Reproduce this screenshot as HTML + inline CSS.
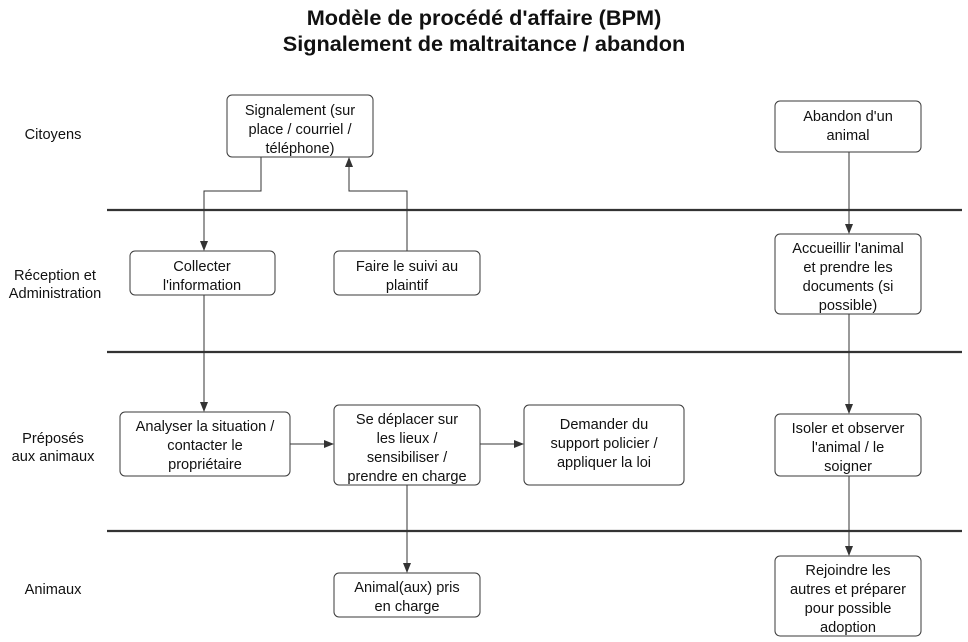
<!DOCTYPE html>
<html><head><meta charset="utf-8"><style>
html,body{margin:0;padding:0;background:#fff;}
svg{display:block;}
text{font-family:"Liberation Sans",Arial,sans-serif;fill:#111;}
.t{font-size:14.6px;text-anchor:middle;}
.b{fill:#fff;stroke:#3a3a3a;stroke-width:1;}
.c{stroke:#333;stroke-width:1;fill:none;}
.sep{stroke:#333;stroke-width:2.2;}
</style></head><body>
<svg width="968" height="642" viewBox="0 0 968 642" xmlns="http://www.w3.org/2000/svg">
<defs><marker id="a" markerWidth="10" markerHeight="10" refX="9" refY="5" orient="auto" markerUnits="userSpaceOnUse"><path d="M0,1 L10,5 L0,9 z" fill="#333"/></marker></defs>
<text x="484" y="25" text-anchor="middle" font-size="21.7" font-weight="bold">Modèle de procédé d'affaire (BPM)</text>
<text x="484" y="51" text-anchor="middle" font-size="21.7" font-weight="bold">Signalement de maltraitance / abandon</text>

<line class="sep" x1="107" y1="210" x2="962" y2="210"/>
<line class="sep" x1="107" y1="352" x2="962" y2="352"/>
<line class="sep" x1="107" y1="531" x2="962" y2="531"/>

<text class="t" x="53" y="139">Citoyens</text>
<text class="t" x="55" y="280">Réception et</text>
<text class="t" x="55" y="298">Administration</text>
<text class="t" x="53" y="443">Préposés</text>
<text class="t" x="53" y="461">aux animaux</text>
<text class="t" x="53" y="594">Animaux</text>

<path class="c" d="M261,157 V191 H204 V250" marker-end="url(#a)"/>
<path class="c" d="M407,251 V191 H349 V158" marker-end="url(#a)"/>
<path class="c" d="M204,295 V411" marker-end="url(#a)"/>
<path class="c" d="M290,444 H333" marker-end="url(#a)"/>
<path class="c" d="M480,444 H523" marker-end="url(#a)"/>
<path class="c" d="M407,485 V572" marker-end="url(#a)"/>
<path class="c" d="M849,152 V233" marker-end="url(#a)"/>
<path class="c" d="M849,314 V413" marker-end="url(#a)"/>
<path class="c" d="M849,476 V555" marker-end="url(#a)"/>

<rect class="b" x="227" y="95" width="146" height="62" rx="5"/>
<text class="t" x="300" y="115">Signalement (sur</text>
<text class="t" x="300" y="134">place / courriel /</text>
<text class="t" x="300" y="153">téléphone)</text>

<rect class="b" x="775" y="101" width="146" height="51" rx="5"/>
<text class="t" x="848" y="121">Abandon d'un</text>
<text class="t" x="848" y="140">animal</text>

<rect class="b" x="130" y="251" width="145" height="44" rx="5"/>
<text class="t" x="202" y="271">Collecter</text>
<text class="t" x="202" y="290">l'information</text>

<rect class="b" x="334" y="251" width="146" height="44" rx="5"/>
<text class="t" x="407" y="271">Faire le suivi au</text>
<text class="t" x="407" y="290">plaintif</text>

<rect class="b" x="775" y="234" width="146" height="80" rx="5"/>
<text class="t" x="848" y="253">Accueillir l'animal</text>
<text class="t" x="848" y="272">et prendre les</text>
<text class="t" x="848" y="291">documents (si</text>
<text class="t" x="848" y="310">possible)</text>

<rect class="b" x="120" y="412" width="170" height="64" rx="5"/>
<text class="t" x="205" y="431">Analyser la situation /</text>
<text class="t" x="205" y="450">contacter le</text>
<text class="t" x="205" y="469">propriétaire</text>

<rect class="b" x="334" y="405" width="146" height="80" rx="5"/>
<text class="t" x="407" y="424">Se déplacer sur</text>
<text class="t" x="407" y="443">les lieux /</text>
<text class="t" x="407" y="462">sensibiliser /</text>
<text class="t" x="407" y="481">prendre en charge</text>

<rect class="b" x="524" y="405" width="160" height="80" rx="5"/>
<text class="t" x="604" y="429">Demander du</text>
<text class="t" x="604" y="448">support policier /</text>
<text class="t" x="604" y="467">appliquer la loi</text>

<rect class="b" x="775" y="414" width="146" height="62" rx="5"/>
<text class="t" x="848" y="433">Isoler et observer</text>
<text class="t" x="848" y="452">l'animal / le</text>
<text class="t" x="848" y="471">soigner</text>

<rect class="b" x="334" y="573" width="146" height="44" rx="5"/>
<text class="t" x="407" y="592">Animal(aux) pris</text>
<text class="t" x="407" y="611">en charge</text>

<rect class="b" x="775" y="556" width="146" height="80" rx="5"/>
<text class="t" x="848" y="575">Rejoindre les</text>
<text class="t" x="848" y="594">autres et préparer</text>
<text class="t" x="848" y="613">pour possible</text>
<text class="t" x="848" y="632">adoption</text>
</svg>
</body></html>
